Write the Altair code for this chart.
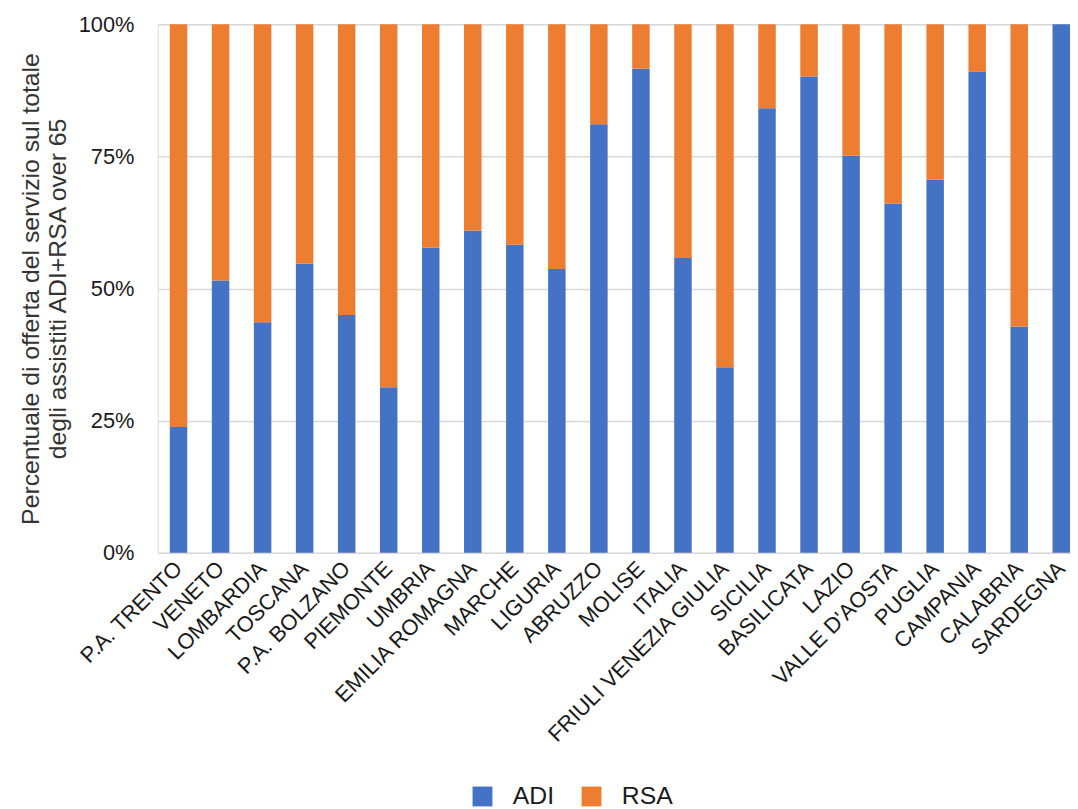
import altair as alt
import pandas as pd

regions = ["P.A. TRENTO", "VENETO", "LOMBARDIA", "TOSCANA", "P.A. BOLZANO", "PIEMONTE",
           "UMBRIA", "EMILIA ROMAGNA", "MARCHE", "LIGURIA", "ABRUZZO", "MOLISE", "ITALIA",
           "FRIULI VENEZIA GIULIA", "SICILIA", "BASILICATA", "LAZIO", "VALLE D'AOSTA",
           "PUGLIA", "CAMPANIA", "CALABRIA", "SARDEGNA"]
adi = [23.8, 51.5, 43.6, 54.7, 45.0, 31.3, 57.7, 61.0, 58.3, 53.7, 81.1, 91.6, 55.8,
       35.1, 84.1, 90.1, 75.1, 66.1, 70.6, 91.0, 42.8, 100.0]
rsa = [76.2, 48.5, 56.4, 45.3, 55.0, 68.7, 42.3, 39.0, 41.7, 46.3, 18.9, 8.4, 44.2,
       64.9, 15.9, 9.9, 24.9, 33.9, 29.4, 9.0, 57.2, 0.0]
series = ["ADI", "RSA"]
colors = ["#4472C4", "#ED7D31"]
y_ticks = [0, 0.25, 0.5, 0.75, 1.0]

rows = []
for r, a, s in zip(regions, adi, rsa):
    rows.append({"regione": r, "serie": "ADI", "valore": a, "ord": 0})
    rows.append({"regione": r, "serie": "RSA", "valore": s, "ord": 1})
df = pd.DataFrame(rows)

FONT = "Liberation Sans"

chart = alt.Chart(df).mark_bar().encode(
    x=alt.X("regione:N", sort=regions,
            scale=alt.Scale(paddingInner=0.584, paddingOuter=0.1435, align=1),
            axis=alt.Axis(title=None, labelAngle=-45, labelAlign="right",
                          labelBaseline="middle", labelPadding=12, ticks=False,
                          domain=False, labelFontSize=22, labelFont=FONT,
                          labelColor="#1a1a1a", labelOverlap=False, labelLimit=400)),
    y=alt.Y("valore:Q", stack="normalize",
            scale=alt.Scale(domain=[0, 1]),
            axis=alt.Axis(values=y_ticks, format=".0%", ticks=False, domain=False,
                          labelPadding=24, labelFontSize=22, labelFont=FONT,
                          labelColor="#1a1a1a", gridColor="#d9d9d9", gridWidth=1.5,
                          title=["Percentuale di offerta del servizio sul totale",
                                 "degli assistiti ADI+RSA over 65"],
                          titleFont=FONT, titleFontSize=25, titleFontWeight="normal",
                          titleColor="#333333", titleLineHeight=27, titlePadding=8)),
    color=alt.Color("serie:N", scale=alt.Scale(domain=series, range=colors),
                    legend=alt.Legend(title=None, orient="none", direction="horizontal",
                                      legendX=315, legendY=766,
                                      symbolType="square", symbolSize=400,
                                      symbolStrokeWidth=0, labelFontSize=25,
                                      labelFont=FONT, labelColor="#1a1a1a",
                                      labelOffset=18, columnPadding=25)),
    order=alt.Order("ord:Q"),
).properties(
    width=920, height=533,
    padding={"left": 10, "top": 2, "right": 0, "bottom": 0},
).configure_view(stroke=None).configure(background="white")

chart.save("out.html", embed_options={"renderer": "svg", "actions": False})
